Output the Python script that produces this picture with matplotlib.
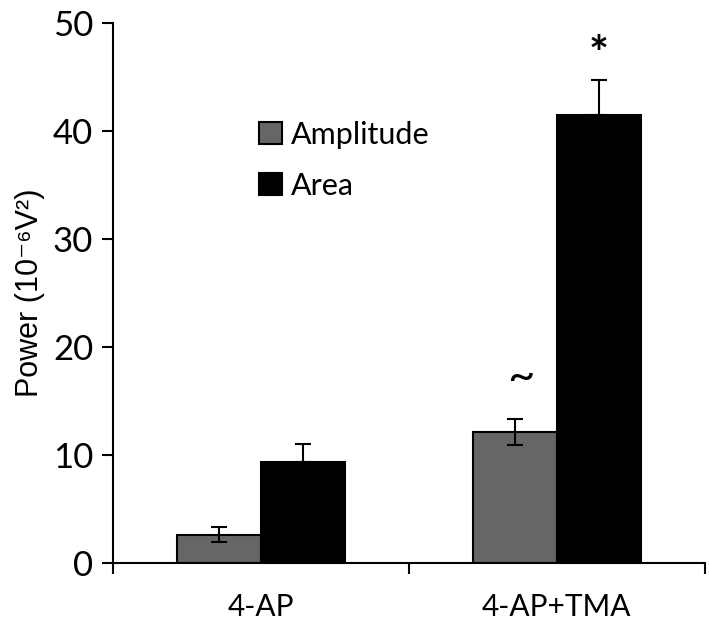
import matplotlib.pyplot as plt
import numpy as np

groups = ["4-AP", "4-AP+TMA"]
amplitude = [2.6, 12.15]
amplitude_err = [0.7, 1.2]
area = [9.3, 41.5]
area_err = [1.7, 3.2]
marks = ["~", "*"]

plt.rcParams["font.family"] = ["Lato", "DejaVu Sans"]

fig = plt.figure(figsize=(7.09, 6.22), dpi=100)
ax = fig.add_axes([0.159, 0.095, 0.835, 0.868])

x = np.arange(len(groups))
w = 0.284
ax.bar(x - w / 2, amplitude, w, color="#666666", edgecolor="black", linewidth=1.5,
       label="Amplitude", zorder=2)
ax.bar(x + w / 2, area, w, color="black", edgecolor="black", linewidth=1.5,
       label="Area", zorder=2)
ax.errorbar(x - w / 2, amplitude, yerr=amplitude_err, fmt="none", ecolor="black",
            elinewidth=1.5, capsize=6, capthick=1.5, zorder=3)
ax.errorbar(x + w / 2, area, yerr=[[0, 0], area_err], fmt="none", ecolor="black",
            elinewidth=1.5, capsize=6, capthick=1.5, zorder=3)

# significance marks
ax.text(x[1] - w / 2 + 0.02, amplitude[1] + 5.0, marks[0], ha="center", va="center",
        fontsize=34)
ax.text(x[1] + w / 2, area[1] + 5.4, marks[1], ha="center", va="center",
        fontsize=34, fontweight="bold")

ax.set_xlim(-0.5, 1.5)
ax.set_ylim(0, 50)
ax.set_yticks(range(0, 51, 10))
ax.set_xticks(x)
ax.set_xticklabels(groups)
ax.set_xticks([-0.5, 0.5, 1.5], minor=True)
ax.tick_params(axis="x", which="major", length=0, labelsize=21.5, pad=22)
ax.tick_params(axis="x", which="minor", length=8, width=1.5, direction="out")
ax.tick_params(axis="y", length=8, width=1.5, direction="out", labelsize=25, pad=6)
ax.set_ylabel("Power (10\u207b\u2076V\u00b2)", fontsize=22,
              family=["Liberation Sans", "DejaVu Sans"], labelpad=6)

for s in ["top", "right"]:
    ax.spines[s].set_visible(False)
for s in ["left", "bottom"]:
    ax.spines[s].set_linewidth(1.5)

ax.legend(loc="upper left", bbox_to_anchor=(0.2, 0.87), frameon=False, fontsize=22,
          handlelength=0.75, handleheight=0.75, labelspacing=0.75, handletextpad=0.3)

fig.savefig("out.png", dpi=100)
plt.close(fig)
